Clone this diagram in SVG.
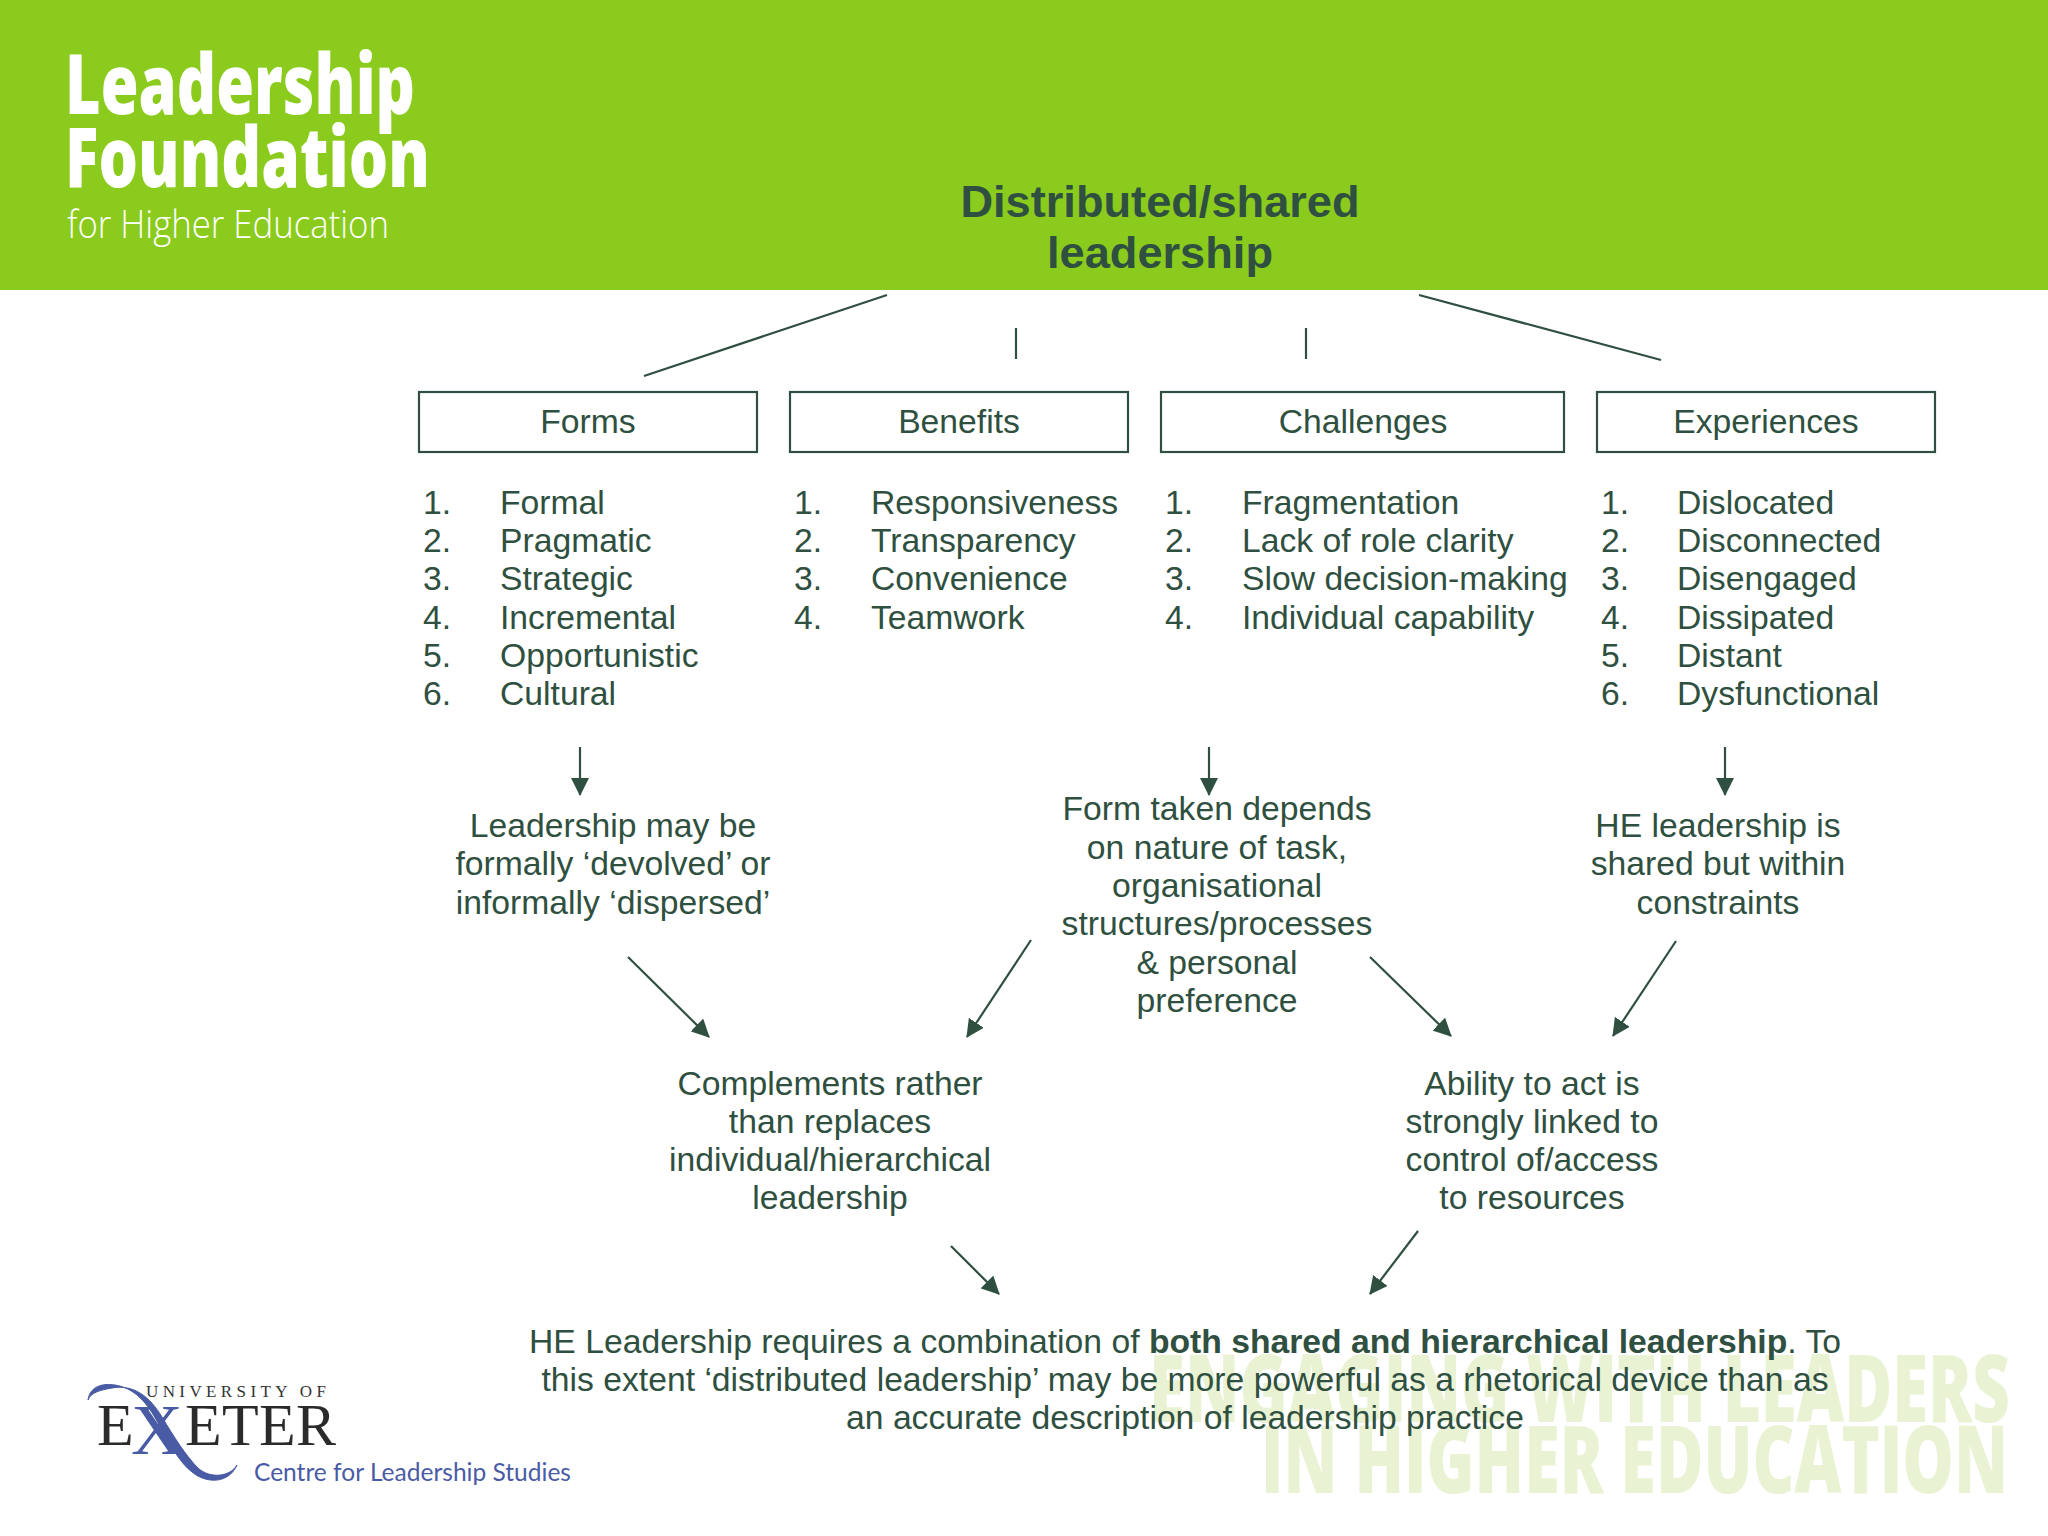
<svg xmlns="http://www.w3.org/2000/svg" width="2048" height="1536" viewBox="0 0 2048 1536">
<style>
text{font-family:"Liberation Sans",Arial,sans-serif;fill:#2f5040;font-size:33.7px}
.m{text-anchor:middle}
.t{font-size:45.2px;font-weight:bold;text-anchor:middle}
.b{fill:#fff;stroke:#2f5040;stroke-width:2.2}
.c{stroke:#2f5040;stroke-width:2.2;fill:none}
.a{marker-end:url(#h)}
.w{fill:#e9f3d4;font-family:"Open Sans",sans-serif;font-weight:800;font-size:94px}
.l{fill:#fff;font-family:"Open Sans",sans-serif;font-weight:800;font-size:84px}
</style>
<defs><marker id="h" viewBox="0 0 18 18" refX="17" refY="9" markerWidth="18" markerHeight="18" markerUnits="userSpaceOnUse" orient="auto"><path d="M0 0L18 9L0 18Z" fill="#2f5040"/></marker></defs>
<rect width="2048" height="1536" fill="#fff"/>
<rect id="header" width="2048" height="290" fill="#8bcb1e"/>
<g id="lf-logo">
<text class="l" x="65" y="114" textLength="350" lengthAdjust="spacingAndGlyphs">Leadership</text>
<text class="l" x="65" y="187" textLength="365" lengthAdjust="spacingAndGlyphs">Foundation</text>
<text x="67" y="238" textLength="322" lengthAdjust="spacingAndGlyphs" style="fill:#fff;font-family:'Open Sans',sans-serif;font-weight:300;font-size:38px">for Higher Education</text>
</g>
<g id="watermark">
<text class="w" x="1149" y="1422" textLength="861" lengthAdjust="spacingAndGlyphs">ENGAGING WITH LEADERS</text>
<text class="w" x="1261" y="1493" textLength="747" lengthAdjust="spacingAndGlyphs">IN HIGHER EDUCATION</text>
</g>
<g id="title"><text class="t" x="1160" y="217">Distributed/shared</text><text class="t" x="1160" y="268">leadership</text></g>
<g id="connectors">
<path class="c" d="M887 295L644 376M1016 328V359M1306 328V359M1419 295L1661 360"/>
<path class="c a" d="M580 747V795"/><path class="c a" d="M1209 747V795"/><path class="c a" d="M1725 747V795"/>
<path class="c a" d="M628 957L709 1037"/><path class="c a" d="M1031 940L967 1037"/>
<path class="c a" d="M1370 957L1451 1036"/><path class="c a" d="M1676 941L1613 1036"/>
<path class="c a" d="M951 1246L999 1294"/><path class="c a" d="M1418 1231L1370 1294"/>
</g>
<g id="forms"><rect class="b" x="419" y="392" width="338" height="60"/><text class="m" x="588" y="433">Forms</text>
<text x="423" y="514">1.</text><text x="500" y="514">Formal</text><text x="423" y="552">2.</text><text x="500" y="552">Pragmatic</text><text x="423" y="590">3.</text><text x="500" y="590">Strategic</text><text x="423" y="629">4.</text><text x="500" y="629">Incremental</text><text x="423" y="667">5.</text><text x="500" y="667">Opportunistic</text><text x="423" y="705">6.</text><text x="500" y="705">Cultural</text></g>
<g id="benefits"><rect class="b" x="790" y="392" width="338" height="60"/><text class="m" x="959" y="433">Benefits</text>
<text x="794" y="514">1.</text><text x="871" y="514">Responsiveness</text><text x="794" y="552">2.</text><text x="871" y="552">Transparency</text><text x="794" y="590">3.</text><text x="871" y="590">Convenience</text><text x="794" y="629">4.</text><text x="871" y="629">Teamwork</text></g>
<g id="challenges"><rect class="b" x="1161" y="392" width="403" height="60"/><text class="m" x="1363" y="433">Challenges</text>
<text x="1165" y="514">1.</text><text x="1242" y="514">Fragmentation</text><text x="1165" y="552">2.</text><text x="1242" y="552">Lack of role clarity</text><text x="1165" y="590">3.</text><text x="1242" y="590">Slow decision-making</text><text x="1165" y="629">4.</text><text x="1242" y="629">Individual capability</text></g>
<g id="experiences"><rect class="b" x="1597" y="392" width="338" height="60"/><text class="m" x="1766" y="433">Experiences</text>
<text x="1601" y="514">1.</text><text x="1677" y="514">Dislocated</text><text x="1601" y="552">2.</text><text x="1677" y="552">Disconnected</text><text x="1601" y="590">3.</text><text x="1677" y="590">Disengaged</text><text x="1601" y="629">4.</text><text x="1677" y="629">Dissipated</text><text x="1601" y="667">5.</text><text x="1677" y="667">Distant</text><text x="1601" y="705">6.</text><text x="1677" y="705">Dysfunctional</text></g>
<g id="devolved"><text class="m" x="613" y="837">Leadership may be</text><text class="m" x="613" y="875">formally ‘devolved’ or</text><text class="m" x="613" y="914">informally ‘dispersed’</text></g>
<g id="form-taken"><text class="m" x="1217" y="820">Form taken depends</text><text class="m" x="1217" y="859">on nature of task,</text><text class="m" x="1217" y="897">organisational</text><text class="m" x="1217" y="935">structures/processes</text><text class="m" x="1217" y="974">&amp; personal</text><text class="m" x="1217" y="1012">preference</text></g>
<g id="constraints"><text class="m" x="1718" y="837">HE leadership is</text><text class="m" x="1718" y="875">shared but within</text><text class="m" x="1718" y="914">constraints</text></g>
<g id="complements"><text class="m" x="830" y="1095">Complements rather</text><text class="m" x="830" y="1133">than replaces</text><text class="m" x="830" y="1171">individual/hierarchical</text><text class="m" x="830" y="1209">leadership</text></g>
<g id="ability"><text class="m" x="1532" y="1095">Ability to act is</text><text class="m" x="1532" y="1133">strongly linked to</text><text class="m" x="1532" y="1171">control of/access</text><text class="m" x="1532" y="1209">to resources</text></g>
<g id="conclusion"><text class="m" x="1185" y="1353">HE Leadership requires a combination of <tspan font-weight="bold">both shared and hierarchical leadership</tspan>. To</text><text class="m" x="1185" y="1391">this extent ‘distributed leadership’ may be more powerful as a rhetorical device than as</text><text class="m" x="1185" y="1429">an accurate description of leadership practice</text></g>
<g id="exeter-logo">
<text x="146" y="1397" textLength="180" style="font-family:'Liberation Serif',serif;font-size:17px;fill:#333">UNIVERSITY OF</text>
<text y="1445" style="font-family:'Liberation Serif',serif;font-size:60px;fill:#2b2b2b"><tspan x="97">E</tspan><tspan x="131" y="1454" style="fill:#4a5ba6;font-size:72px">X</tspan><tspan x="185" y="1445" textLength="151">ETER</tspan></text>
<path d="M88 1400C90 1386 103 1383 115 1385C135 1388 148 1404 158 1423C170 1445 180 1463 192 1472C205 1483 228 1485 237 1465C230 1477 210 1479 198 1468C186 1456 174 1437 162 1417C150 1397 134 1384 112 1388C101 1390 91 1392 88 1400Z" fill="#4a5ba6" stroke="#4a5ba6" stroke-width="1"/>
<text x="254" y="1481" textLength="317" lengthAdjust="spacingAndGlyphs" style="font-family:Lato,sans-serif;font-size:25px;fill:#4a5ba6">Centre for Leadership Studies</text>
</g>
</svg>
